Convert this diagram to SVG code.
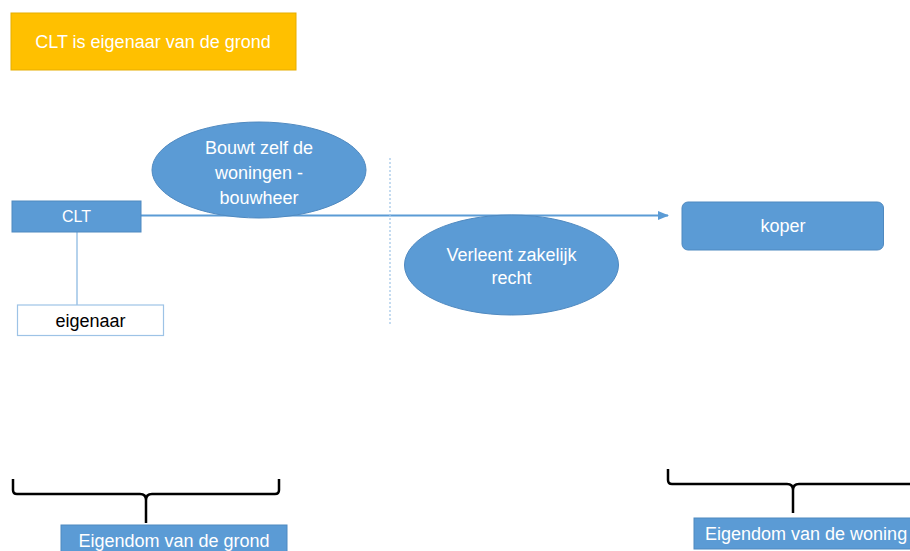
<svg xmlns="http://www.w3.org/2000/svg" width="910" height="551" viewBox="0 0 910 551">
<style>
  .lbl{font-family:"Liberation Sans",Arial,sans-serif;font-size:18px;fill:#ffffff;text-anchor:middle;dominant-baseline:central}
  .blue{fill:#5B9BD5;stroke:#4F89C0;stroke-width:1}
  .brace{fill:none;stroke:#000000;stroke-width:2.5;stroke-linejoin:round}
</style>
<defs>
  <marker id="arr" markerWidth="11" markerHeight="9" refX="10" refY="4.5" orient="auto" markerUnits="userSpaceOnUse">
    <path d="M0,0 L11,4.5 L0,9 z" fill="#5B9BD5"/>
  </marker>
</defs>
<rect width="910" height="551" fill="#ffffff"/>
<g id="connectors">
  <line x1="141" y1="215.5" x2="668" y2="215.5" stroke="#5B9BD5" stroke-width="2" marker-end="url(#arr)"/>
  <line x1="77" y1="232" x2="77" y2="305" stroke="#9DC3E6" stroke-width="1.5"/>
  <line x1="390" y1="158" x2="390" y2="326" stroke="#9DC3E6" stroke-width="1.2" stroke-dasharray="2,2"/>
  <path class="brace" d="M13,479 L13,490 Q13,494 17,494 L140,494 Q146,494 146,500 L146,523 M146,500 Q146,494 152,494 L275,494 Q279,494 279,490 L279,479"/>
  <path class="brace" d="M668,469 L668,480 Q668,484 672,484 L787,484 Q793,484 793,490 L793,513 M793,490 Q793,484 799,484 L915,484"/>
</g>
<g id="title">
  <rect x="11" y="13" width="285" height="57" fill="#FFC000" stroke="#E6AD00" stroke-width="1"/>
  <text class="lbl" x="153" y="41.5">CLT is eigenaar van de grond</text>
</g>
<g id="clt">
  <rect class="blue" x="12" y="201" width="129" height="31"/>
  <text class="lbl" x="76.5" y="216" style="font-size:16px">CLT</text>
</g>
<g id="eigenaar">
  <rect x="17.5" y="305" width="146" height="30.5" fill="#ffffff" stroke="#9DC3E6" stroke-width="1.2"/>
  <text class="lbl" x="90.5" y="320.5" style="fill:#000000">eigenaar</text>
</g>
<g id="bouwt">
  <ellipse class="blue" cx="259" cy="170" rx="107" ry="48"/>
  <text class="lbl" x="259" y="148">Bouwt zelf de</text>
  <text class="lbl" x="259" y="173">woningen -</text>
  <text class="lbl" x="259" y="198">bouwheer</text>
</g>
<g id="verleent">
  <ellipse class="blue" cx="511.5" cy="265" rx="107" ry="50"/>
  <text class="lbl" x="511.5" y="255">Verleent zakelijk</text>
  <text class="lbl" x="511.5" y="278">recht</text>
</g>
<g id="koper">
  <rect class="blue" x="682" y="202" width="201.5" height="48" rx="6"/>
  <text class="lbl" x="783" y="226">koper</text>
</g>
<g id="eigendom-grond">
  <rect class="blue" x="61" y="525" width="226" height="30"/>
  <text class="lbl" x="174" y="541">Eigendom van de grond</text>
</g>
<g id="eigendom-woning">
  <rect class="blue" x="694" y="518" width="230" height="31"/>
  <text class="lbl" x="705" y="533.5" style="text-anchor:start">Eigendom van de woning</text>
</g>
</svg>
